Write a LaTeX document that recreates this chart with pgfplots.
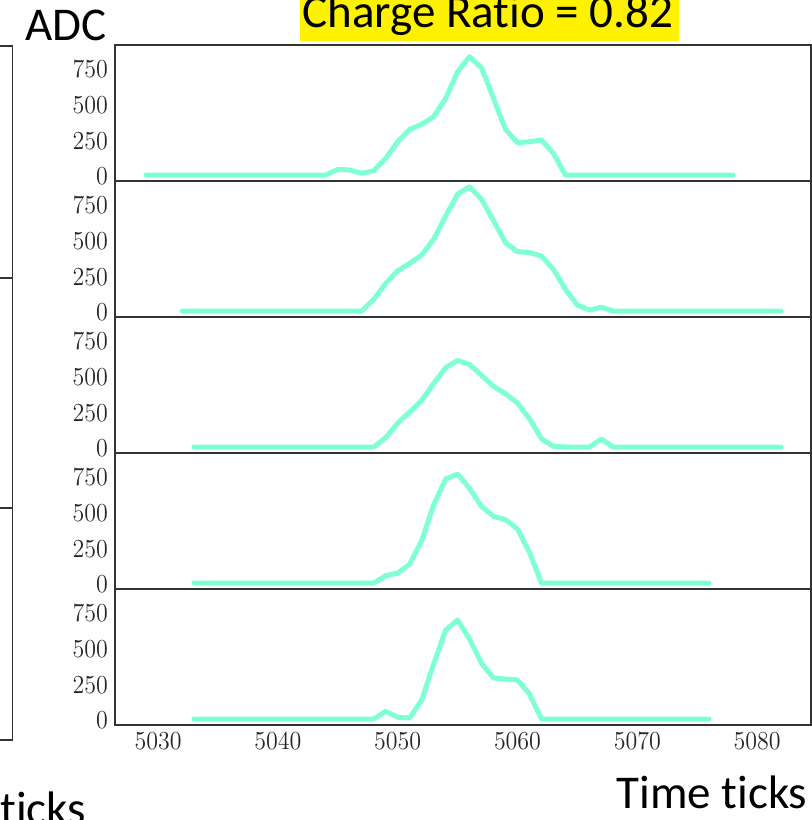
\documentclass[border=0pt]{standalone}
\usepackage{fontspec}
\newfontfamily\calibri[Ligatures=NoCommon]{Carlito}
\usepackage{pgfplots}
\pgfplotsset{compat=1.18}
\definecolor{trace}{RGB}{127,255,212}
\definecolor{frame}{RGB}{51,51,51}

\pgfplotsset{
  panel/.style={
    scale only axis, width=348pt, height=68pt,
    anchor=south west,
    xmin=5026.4, xmax=5084.5, ymin=-32, ymax=923,
    ytick={0,250,500,750}, xtick=\empty,
    major tick length=0pt,
    axis line style={frame, line width=0.8pt},
    tick label style={font=\fontsize{12}{12}\selectfont, black!85, yscale=1.08},
  },
  trace/.style={color=trace, line width=2.5pt, line cap=round, line join=round, mark=none},
}

\begin{document}
\begin{tikzpicture}
\path[use as bounding box] (0,0) rectangle (406pt,410pt);

% edge of the neighbouring chart, cut off at the left
\draw[frame, line width=0.8pt] (0,387pt) -- (6.25pt,387pt) -- (6.25pt,40pt) -- (0,40pt);
\draw[frame, line width=0.8pt] (0,271pt) -- (6.25pt,271pt);
\draw[frame, line width=0.8pt] (0,156pt) -- (6.25pt,156pt);

\begin{axis}[panel, at={(57.5pt,319.5pt)}]
\addplot[trace] coordinates {(5029,10) (5044,10) (5045,50) (5046,45) (5047,22) (5048,40)
 (5049,127) (5050,244) (5051,330) (5052,366) (5053,420) (5054,548) (5055,735) (5056,841)
 (5057,763) (5058,548) (5059,330) (5060,237) (5061,244) (5062,256) (5063,162) (5064,10) (5078,10)};
\end{axis}

\begin{axis}[panel, at={(57.5pt,251.5pt)}]
\addplot[trace] coordinates {(5032,10) (5047,10) (5048,92) (5049,204) (5050,293) (5051,345)
 (5052,403) (5053,513) (5054,677) (5055,831) (5056,883) (5057,794) (5058,644) (5059,490)
 (5060,427) (5061,420) (5062,396) (5063,303) (5064,162) (5065,52) (5066,17) (5067,36) (5068,10) (5082,10)};
\end{axis}

\begin{axis}[panel, at={(57.5pt,183.5pt)}]
\addplot[trace] coordinates {(5033,10) (5048,10) (5049,76) (5050,178) (5051,256) (5052,338)
 (5053,455) (5054,567) (5055,618) (5056,590) (5057,513) (5058,436) (5059,384) (5060,319)
 (5061,209) (5062,68) (5063,15) (5064,10) (5066,10) (5067,66) (5068,10) (5082,10)};
\end{axis}

\begin{axis}[panel, at={(57.5pt,115.5pt)}]
\addplot[trace] coordinates {(5033,10) (5048,10) (5049,61) (5050,80) (5051,143) (5052,307)
 (5053,558) (5054,740) (5055,775) (5056,675) (5057,548) (5058,478) (5059,455) (5060,389)
 (5061,225) (5062,10) (5076,10)};
\end{axis}

\begin{axis}[panel, at={(57.5pt,47.5pt)},
  xtick={5030,5040,5050,5060,5070,5080}, scaled x ticks=false,
  xticklabel style={/pgf/number format/1000 sep={}}]
\addplot[trace] coordinates {(5033,10) (5048,10) (5049,64) (5050,22) (5051,17) (5052,143)
 (5053,396) (5054,635) (5055,705) (5056,572) (5057,401) (5058,298) (5059,291) (5060,284)
 (5061,186) (5062,10) (5076,10)};
\end{axis}

\fill[yellow] (150pt,389.5pt) rectangle (339.5pt,412pt);
\node[anchor=base west, inner sep=0] at (151pt,396pt) {\calibri\fontsize{23.5}{28}\selectfont Charge Ratio = 0.82};
\node[anchor=base west, inner sep=0] at (12.5pt,389.5pt) {\calibri\fontsize{23.5}{28}\selectfont ADC};
\node[anchor=base west, inner sep=0] at (308pt,5.5pt) {\calibri\fontsize{23.5}{28}\selectfont Time ticks};
\node[anchor=base west, inner sep=0] at (0pt,-2pt) {\calibri\fontsize{23.5}{28}\selectfont ticks};
\end{tikzpicture}
\end{document}
